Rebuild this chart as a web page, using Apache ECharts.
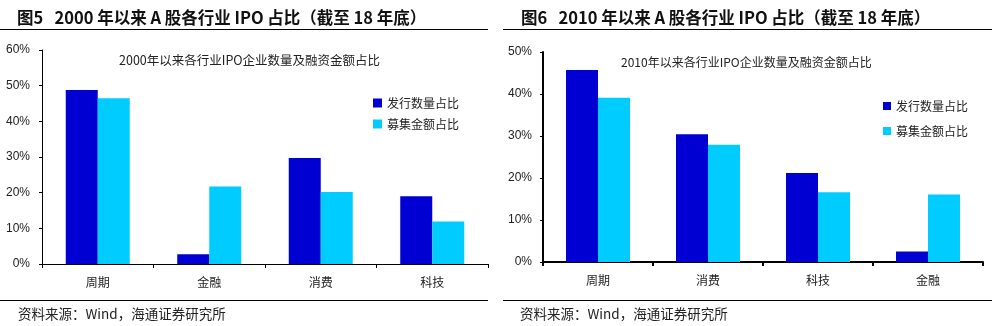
<!DOCTYPE html>
<html><head><meta charset="utf-8">
<script src="https://cdn.jsdelivr.net/npm/echarts@6/dist/echarts.min.js"></script>
<style>html,body{margin:0;padding:0;background:#fff}#c{width:994px;height:326px}</style>
</head><body><div id="c"></div>
<script>
const catsL = ['周期', '金融', '消费', '科技'];
const countL = [48.8, 2.7, 29.7, 19.0];
const amountL = [46.5, 21.7, 20.2, 11.9];
const catsR = ['周期', '消费', '科技', '金融'];
const countR = [45.7, 30.4, 21.2, 2.5];
const amountR = [39.1, 27.9, 16.6, 16.1];
const yTicksL = [0, 10, 20, 30, 40, 50, 60];
const yTicksR = [0, 10, 20, 30, 40, 50];
const seriesNames = ['发行数量占比', '募集金额占比'];

const DARK = '#0000D2', LIGHT = '#00CCFF';
const cjk = '"Noto Sans CJK SC", sans-serif';
const chart = echarts.init(document.getElementById('c'));
function yAxis(gi, ticks, axisW, margin) {
  return {
    gridIndex: gi, type: 'value', min: ticks[0], max: ticks[ticks.length - 1], interval: 10,
    axisLine: {show: true, lineStyle: {color: '#000', width: axisW}},
    axisTick: {show: true, length: 3, lineStyle: {color: '#000'}},
    splitLine: {show: false},
    axisLabel: {formatter: '{value}%', color: '#222', fontSize: 12, fontFamily: 'Liberation Sans, Arial', margin}
  };
}
function xAxis(gi, cats, axisW) {
  return {
    gridIndex: gi, type: 'category', data: cats,
    axisLine: {lineStyle: {color: '#000', width: axisW}},
    axisTick: {show: true, length: 4, alignWithLabel: false, lineStyle: {color: '#000', width: axisW}},
    axisLabel: {color: '#222', fontSize: 12, fontFamily: cjk, margin: 12}
  };
}
function bar(name, gi, data, color) {
  return {name, type: 'bar', xAxisIndex: gi, yAxisIndex: gi, data, barWidth: 32, barGap: '0%',
    itemStyle: {color}, emphasis: {disabled: true}};
}
chart.setOption({
  animation: false,
  grid: [
    {left: 42, top: 50, width: 446, height: 214},
    {left: 543, top: 52, width: 440, height: 210}
  ],
  xAxis: [xAxis(0, catsL, 1), xAxis(1, catsR, 2)],
  yAxis: [yAxis(0, yTicksL, 1, 12), yAxis(1, yTicksR, 2, 11)],
  legend: [
    {left: 368, top: 92, orient: 'vertical', itemWidth: 9, itemHeight: 9, itemGap: 9,
     icon: 'rect', data: seriesNames, textStyle: {fontSize: 12, fontFamily: cjk, color: '#222'}},
    {left: 878, top: 95, orient: 'vertical', itemWidth: 8, itemHeight: 8, itemGap: 13,
     icon: 'rect', data: seriesNames, textStyle: {fontSize: 12, fontFamily: cjk, color: '#222'}}
  ],
  series: [
    bar(seriesNames[0], 0, countL, DARK),
    bar(seriesNames[1], 0, amountL, LIGHT),
    bar(seriesNames[0], 1, countR, DARK),
    bar(seriesNames[1], 1, amountR, LIGHT)
  ],
  title: [
    {text: '图5   2000 年以来 A 股各行业 IPO 占比（截至 18 年底）', left: 12, top: 4,
     textStyle: {fontSize: 16.5, fontWeight: 'bold', fontFamily: cjk, color: '#111'}},
    {text: '图6   2010 年以来 A 股各行业 IPO 占比（截至 18 年底）', left: 516, top: 4,
     textStyle: {fontSize: 16.5, fontWeight: 'bold', fontFamily: cjk, color: '#111'}},
    {text: '2000年以来各行业IPO企业数量及融资金额占比', left: 114, top: 49,
     textStyle: {fontSize: 12.5, fontWeight: 'normal', fontFamily: cjk, color: '#222'}},
    {text: '2010年以来各行业IPO企业数量及融资金额占比', left: 616, top: 51,
     textStyle: {fontSize: 12, fontWeight: 'normal', fontFamily: cjk, color: '#222'}},
    {text: '资料来源：Wind，海通证券研究所', left: 13, top: 302,
     textStyle: {fontSize: 13.5, fontWeight: 'normal', fontFamily: cjk, color: '#222'}},
    {text: '资料来源：Wind，海通证券研究所', left: 515, top: 302,
     textStyle: {fontSize: 13.5, fontWeight: 'normal', fontFamily: cjk, color: '#222'}}
  ],
  graphic: [
    {type: 'line', shape: {x1: 0, y1: 29.5, x2: 488, y2: 29.5}, style: {stroke: '#000', lineWidth: 1}},
    {type: 'line', shape: {x1: 503, y1: 29.5, x2: 992, y2: 29.5}, style: {stroke: '#000', lineWidth: 1}},
    {type: 'line', shape: {x1: 0, y1: 300.5, x2: 488, y2: 300.5}, style: {stroke: '#000', lineWidth: 1}},
    {type: 'line', shape: {x1: 503, y1: 300.5, x2: 992, y2: 300.5}, style: {stroke: '#000', lineWidth: 1}}
  ]
});
</script></body></html>
